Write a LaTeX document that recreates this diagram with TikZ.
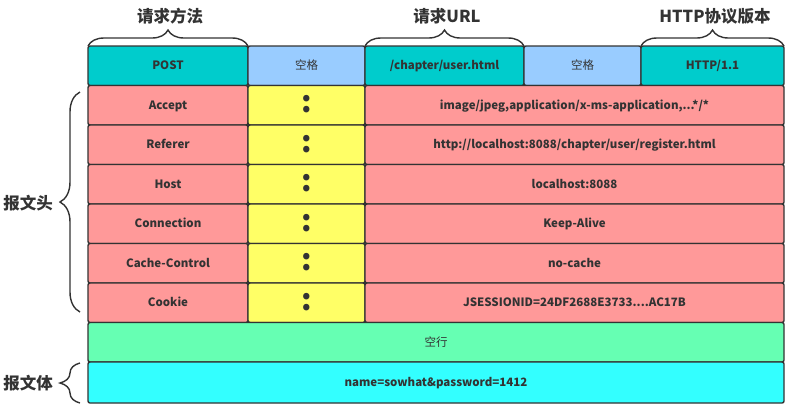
\documentclass[tikz,border=0pt]{standalone}
\usepackage{fontspec}
\setmainfont{Noto Sans CJK SC}
\usetikzlibrary{decorations.pathreplacing}

\definecolor{inkcol}{HTML}{333333}
\definecolor{methodcol}{HTML}{00CCCC}
\definecolor{spacecol}{HTML}{99CCFF}
\definecolor{headcol}{HTML}{FF9999}
\definecolor{coloncol}{HTML}{FFFF66}
\definecolor{blankcol}{HTML}{66FFB3}
\definecolor{bodycol}{HTML}{33FFFF}

\tikzset{
  cell/.style={draw=inkcol, line width=1.4pt, rounded corners=2pt, inner sep=0pt, outer sep=0pt,
    anchor=north west, minimum height=39.5pt, text height=8.3pt, text depth=0pt,
    text=inkcol, font=\fontsize{11.5}{13}\selectfont\bfseries},
  plaincell/.style={cell, font=\fontsize{11.5}{13}\selectfont},
  bracedeco/.style={draw=inkcol, line width=1.4pt, decorate, decoration={brace, amplitude=#1}},
  side/.style={text=inkcol, font=\fontsize{16.5}{18}\selectfont\bfseries}
}

\begin{document}
\begin{tikzpicture}[x=1pt, y=-1pt]
  \useasboundingbox (0,0) rectangle (791,413);
  % request line
  \node[cell, fill=methodcol, minimum width=160pt] (post) at (88,46) {POST};
  \node[plaincell, fill=spacecol, minimum width=117pt] (space1) at (248,46) {空格};
  \node[cell, fill=methodcol, minimum width=159pt] (url) at (365,46) {/chapter/user.html};
  \node[plaincell, fill=spacecol, minimum width=117pt] (space2) at (524,46) {空格};
  \node[cell, fill=methodcol, minimum width=143pt] (version) at (641,46) {HTTP/1.1};
  % header lines
  \foreach \key/\val [count=\i from 0, evaluate=\i as \top using 85.5+39.5*\i] in
    {{Accept}/{image/jpeg,application/x-ms-application,...*/*},
     {Referer}/{http://localhost:8088/chapter/user/register.html},
     {Host}/{localhost:8088},
     {Connection}/{Keep-Alive},
     {Cache-Control}/{no-cache},
     {Cookie}/{JSESSIONID=24DF2688E3733....AC17B}} {
    \node[cell, fill=headcol, minimum width=160pt] (key\i) at (88,\top) {\key};
    \node[cell, fill=coloncol, minimum width=117pt] (colon\i) at (248,\top)
      {\raisebox{-3.3pt}{\fontsize{30}{30}\selectfont :}};
    \node[cell, fill=headcol, minimum width=419pt] (val\i) at (365,\top) {\val};
  }
  % blank line and body
  \node[plaincell, fill=blankcol, minimum width=696pt] (blank) at (88,322.5) {空行};
  \node[cell, fill=bodycol, minimum width=696pt, minimum height=41pt] (body) at (88,362)
    {name=sowhat\&password=1412};
  % braces and labels
  \draw[bracedeco=16pt] (post.north west) -- (post.north east);
  \draw[bracedeco=16pt] (url.north west) -- (url.north east);
  \draw[bracedeco=16pt] (version.north west) -- (version.north east);
  \draw[bracedeco=20pt] (80,312) -- (80,92);
  \draw[bracedeco=20pt] (80,403) -- (80,363);
  \node[side] (methodlbl) at (170,16) {请求方法};
  \node[side] (urllbl) at (447,16) {请求URL};
  \node[side] (versionlbl) at (715,16) {HTTP协议版本};
  \node[side] (headlbl) at (28,203) {报文头};
  \node[side] (bodylbl) at (28,383) {报文体};
\end{tikzpicture}
\end{document}
